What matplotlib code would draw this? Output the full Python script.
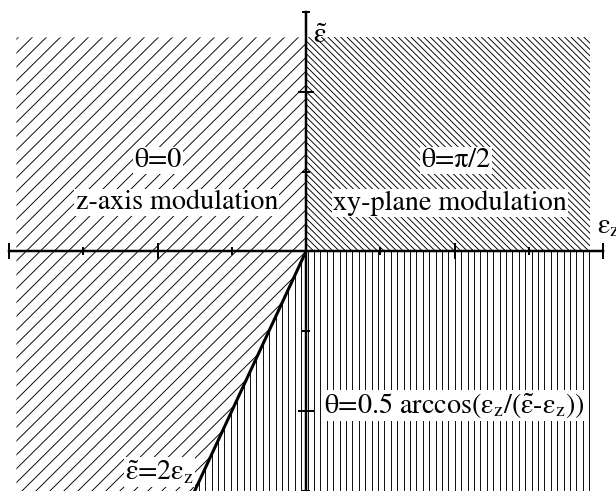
import matplotlib
matplotlib.use("Agg")
import numpy as np
import matplotlib.pyplot as plt
from matplotlib.patches import Polygon
from matplotlib.collections import LineCollection

plt.rcParams["font.family"] = ["STIXGeneral", "DejaVu Serif"]
plt.rcParams["mathtext.fontset"] = "stix"
plt.rcParams["mathtext.default"] = "rm"

# phase diagram in the (eps_z, eps~) plane
slope = 2.0                      # boundary eps~ = 2 eps_z (for eps_z < 0)
x_extent = [-3.9, 3.83]          # hatched area, horizontal
y_top = 2.68
y_floor = -3.2

x_major = [-4, -2, 2, 4]
x_minor = [-3, -1, 1, 3]
y_major = [-2, 2]
y_minor = [-3, -1, 1, 3]

region_labels = ["θ=0", "z-axis modulation", "θ=π/2", "xy-plane modulation",
                 r"θ=0.5 arccos($ε_z$/($\tilde{ε}$-$ε_z$))"]
boundary_label = r"$\tilde{ε}$=2$ε_z$"

DPI = 78
SX, SY = 74.25, 80.7             # pixels per unit on each axis

fig = plt.figure(figsize=(616 / DPI, 491 / DPI), dpi=DPI)
ax = fig.add_axes([0, 0, 1, 1])
ax.set_xlim(-306 / SX, 310 / SX)
ax.set_ylim(-237 / SY, 254 / SY)

x0, x1 = x_extent
xb = y_floor / slope

upper_left = [(x0, y_top), (0, y_top), (0, 0), (xb, y_floor), (x0, y_floor)]
upper_right = [(0, 0), (x1, 0), (x1, y_top), (0, y_top)]
lower = [(0, 0), (x1, 0), (x1, y_floor), (xb, y_floor)]


def hatch(pts, kind, step, lw=0.85, color="black"):
    # hand-made hatching so the line spacing (in pixels) matches the figure
    clip = Polygon(pts, closed=True, facecolor="none", edgecolor="none",
                   transform=ax.transData)
    ax.add_patch(clip)
    offs = np.arange(-1400, 1400, step)
    span = np.array([-800.0, 800.0])
    segs = []
    for c in offs:
        if kind == "/":
            xs, ys = span, span - c
        elif kind == "\\":
            xs, ys = span, -span + c
        else:
            xs, ys = np.array([c, c]), span
        segs.append(np.column_stack([xs / SX, ys / SY]))
    lc = LineCollection(segs, colors=color, linewidths=lw, zorder=1)
    ax.add_collection(lc)
    lc.set_clip_path(clip)


hatch(upper_left, "/", 14.0)
hatch(upper_right, "\\", 6.4)
hatch(lower, "|", 6.4)

# phase boundary
ax.plot([0, xb], [0, y_floor], color="black", lw=2.8, zorder=2.6,
        solid_capstyle="butt")

# axes through the origin
for s in ["top", "right"]:
    ax.spines[s].set_visible(False)
ax.spines["left"].set_position(("data", 0))
ax.spines["bottom"].set_position(("data", 0))
ax.spines["left"].set_bounds(y_floor, 3)
ax.spines["bottom"].set_bounds(-4, 4)
for s in ["left", "bottom"]:
    ax.spines[s].set_linewidth(2.3)
    ax.spines[s].set_zorder(2.5)

ax.set_xticks(x_major)
ax.set_xticks(x_minor, minor=True)
ax.set_yticks(y_major)
ax.set_yticks(y_minor, minor=True)
ax.tick_params(which="major", direction="inout", length=15, width=1.8,
               labelbottom=False, labelleft=False)
ax.tick_params(which="minor", direction="inout", length=8, width=1.8)

fs = 26
box = dict(facecolor="white", edgecolor="none", pad=1)
ax.text(-1.99, 1.14, region_labels[0], fontsize=fs, ha="center", va="center", bbox=box, zorder=3)
ax.text(-1.74, 0.61, region_labels[1], fontsize=fs, ha="center", va="center", bbox=box, zorder=3)
ax.text(2.02, 1.14, region_labels[2], fontsize=fs, ha="center", va="center", bbox=box, zorder=3)
ax.text(1.94, 0.61, region_labels[3], fontsize=fs, ha="center", va="center", bbox=box, zorder=3)
ax.text(2.0, -1.93, region_labels[4], fontsize=fs, ha="center", va="center", bbox=box, zorder=3)
ax.text(-1.97, -2.86, boundary_label, fontsize=fs, ha="center", va="baseline", bbox=box, zorder=2.55)

# axis names
ax.text(0.1, 2.61, r"$\tilde{ε}$", fontsize=fs, ha="left", va="baseline")
ax.text(3.92, 0.235, r"$ε_z$", fontsize=fs, ha="left", va="baseline", clip_on=False)

fig.savefig("out.png", dpi=DPI, facecolor="white")
